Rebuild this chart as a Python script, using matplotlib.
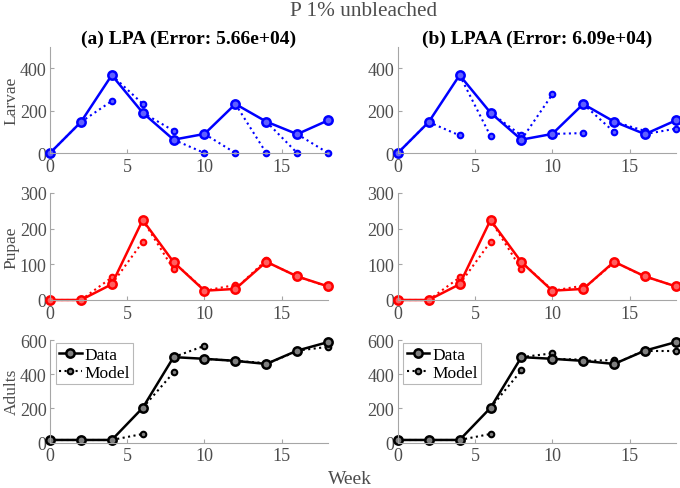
import matplotlib
matplotlib.use('Agg')
import matplotlib.pyplot as plt

plt.rcParams['font.family'] = ['Liberation Serif', 'DejaVu Serif']

weeks = [0, 2, 4, 6, 8, 10, 12, 14, 16, 18]

larvae_data = [0, 146, 367, 190, 63, 90, 231, 148, 89, 154]
pupae_data = [0, 0, 44, 224, 106, 26, 31, 107, 66, 38]
adults_data = [15, 15, 15, 203, 500, 490, 478, 460, 538, 588]

# one-step-ahead predictions (value at week t+2, starting from data at week t)
lpa_larvae = [146, 245, 232, 105, 0, 0, 0, 0, 0]
lpa_pupae = [0, 63, 163, 86, 28, 42, 112, 66, 37]
lpa_adults = [15, 15, 50, 410, 566, 478, 465, 535, 560]

lpaa_larvae = [146, 83, 80, 83, 276, 94, 99, 104, 115]
lpaa_pupae = [0, 63, 163, 86, 28, 40, 105, 65, 38]
lpaa_adults = [15, 15, 50, 422, 522, 485, 483, 540, 538]

titles = ['(a) LPA (Error: 5.66e+04)', '(b) LPAA (Error: 6.09e+04)']
stages = ['Larvae', 'Pupae', 'Adults']
ylims = [(0, 500), (0, 300), (0, 600)]
yticks = [[0, 200, 400], [0, 100, 200, 300], [0, 200, 400, 600]]
colors = ['#0000ff', '#ff0000', '#000000']
faces = ['#6060ff', '#ff6060', '#808080']

data = [larvae_data, pupae_data, adults_data]
models = [[lpa_larvae, lpa_pupae, lpa_adults],
          [lpaa_larvae, lpaa_pupae, lpaa_adults]]

fig = plt.figure(figsize=(6.8, 4.89), dpi=100)
lefts = [0.0735, 0.585]
rows = [(0.685, 0.217), (0.3845, 0.219), (0.093, 0.2096)]
axis_gray = '#a6a6a6'
text_gray = '#4d4d4d'

for c in range(2):
    for r in range(3):
        ax = fig.add_axes([lefts[c], rows[r][0], 0.409, rows[r][1]])
        col = colors[r]
        # model segments
        for i in range(len(weeks) - 1):
            ax.plot([weeks[i], weeks[i + 1]], [data[r][i], models[c][r][i]],
                    ls=':', color=col, lw=1.5, marker='o', markersize=4,
                    markerfacecolor=faces[r], markeredgewidth=1.5,
                    markevery=[1], clip_on=False)
        data_line, = ax.plot(weeks, data[r], '-', color=col, lw=1.8, marker='o',
                             markersize=6, markerfacecolor=faces[r],
                             markeredgewidth=1.8, clip_on=False)
        ax.set_xlim(0, 18)
        ax.set_ylim(*ylims[r])
        ax.set_xticks([0, 5, 10, 15])
        ax.set_yticks(yticks[r])
        for s in ['top', 'right']:
            ax.spines[s].set_visible(False)
        for s in ['left', 'bottom']:
            ax.spines[s].set_color(axis_gray)
            ax.spines[s].set_linewidth(0.8)
        ax.tick_params(direction='in', length=3, color=axis_gray,
                       labelcolor=text_gray, labelsize=13)
        ax.tick_params(axis='x', pad=3.5)
        ax.tick_params(axis='y', pad=2.5)
        if c == 0:
            ax.set_ylabel(stages[r], fontsize=12.5, color=text_gray)
            ax.yaxis.set_label_coords(-0.108, 0.5)
        if r == 0:
            ax.set_title(titles[c], fontsize=14, fontweight='bold', pad=3)
        if r == 2:
            leg_model = plt.Line2D([], [], ls=':', color=col, lw=1.5, marker='o',
                                   markersize=4, markerfacecolor=faces[r],
                                   markeredgewidth=1.5)
            leg = ax.legend([data_line, leg_model], ['Data', 'Model'],
                            loc='upper left', fontsize=12.5, frameon=True,
                            fancybox=False, edgecolor=axis_gray,
                            handlelength=1.3, handletextpad=0.15,
                            borderpad=0.2, labelspacing=0.1,
                            borderaxespad=0.0,
                            bbox_to_anchor=(0.02, 0.97))
            leg.get_frame().set_linewidth(0.8)

fig.text(0.534, 0.995, 'P 1% unbleached', ha='center', va='top', fontsize=15.3,
         color=text_gray)
fig.text(0.515, 0.003, 'Week', ha='center', va='bottom', fontsize=14,
         color=text_gray)

fig.savefig('out.png', dpi=100)
